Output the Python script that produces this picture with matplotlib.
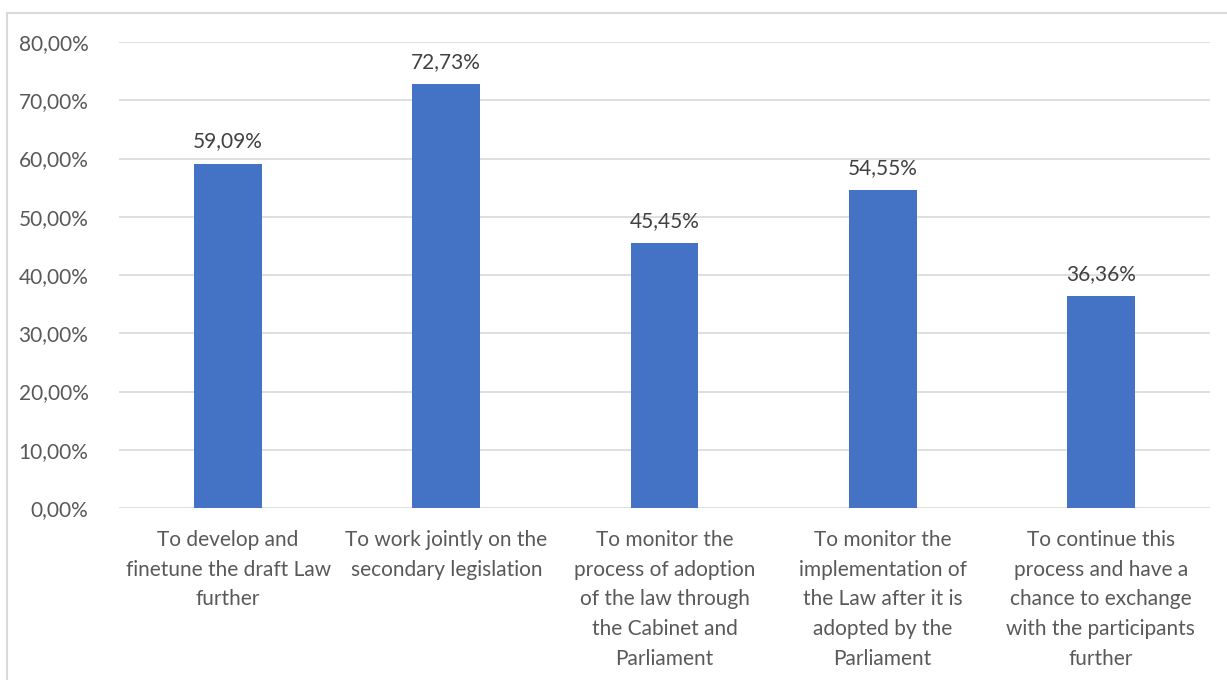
import matplotlib.pyplot as plt
from matplotlib.patches import Rectangle

categories = [
    "To develop and\nfinetune the draft Law\nfurther",
    "To work jointly on the\nsecondary legislation",
    "To monitor the\nprocess of adoption\nof the law through\nthe Cabinet and\nParliament",
    "To monitor the\nimplementation of\nthe Law after it is\nadopted by the\nParliament",
    "To continue this\nprocess and have a\nchance to exchange\nwith the participants\nfurther",
]
values = [59.09, 72.73, 45.45, 54.55, 36.36]
yticks = [0, 10, 20, 30, 40, 50, 60, 70, 80]

plt.rcParams['font.family'] = ['Lato', 'DejaVu Sans']
text_color = '#595959'
fs = 15

fig = plt.figure(figsize=(12.27, 6.8), dpi=100)
ax = fig.add_axes([119 / 1227, 1 - 508 / 680, (1210 - 119) / 1227, (508 - 42) / 680])

x = range(len(values))
bars = ax.bar(x, values, width=0.31, color='#4472C4', zorder=3)

for b, v in zip(bars, values):
    ax.annotate(f"{v:.2f}%".replace('.', ','), (b.get_x() + b.get_width() / 2, v),
                xytext=(0, 9), textcoords='offset points', ha='center', va='bottom',
                fontsize=fs, color='#404040')

ax.set_xlim(-0.5, len(values) - 0.5)
ax.set_ylim(0, 80)
ax.set_yticks(yticks)
ax.set_yticklabels([f"{t:.2f}%".replace('.', ',') for t in yticks], fontsize=fs, color=text_color)
ax.set_xticks(list(x))
ax.set_xticklabels(categories, fontsize=fs, color=text_color, linespacing=1.6)
ax.tick_params(axis='both', length=0)
ax.tick_params(axis='x', pad=16)
ax.tick_params(axis='y', pad=22)
ax.grid(axis='y', color='#D9D9D9', linewidth=1.2, zorder=0)
for s in ax.spines.values():
    s.set_visible(False)

# chart border
fig.patches.append(Rectangle((7 / 1227, -0.05), 1.1, 1 - 13 / 680 + 0.05, transform=fig.transFigure,
                             fill=False, edgecolor='#D9D9D9', linewidth=1.5))

fig.savefig('out.png', dpi=100)
